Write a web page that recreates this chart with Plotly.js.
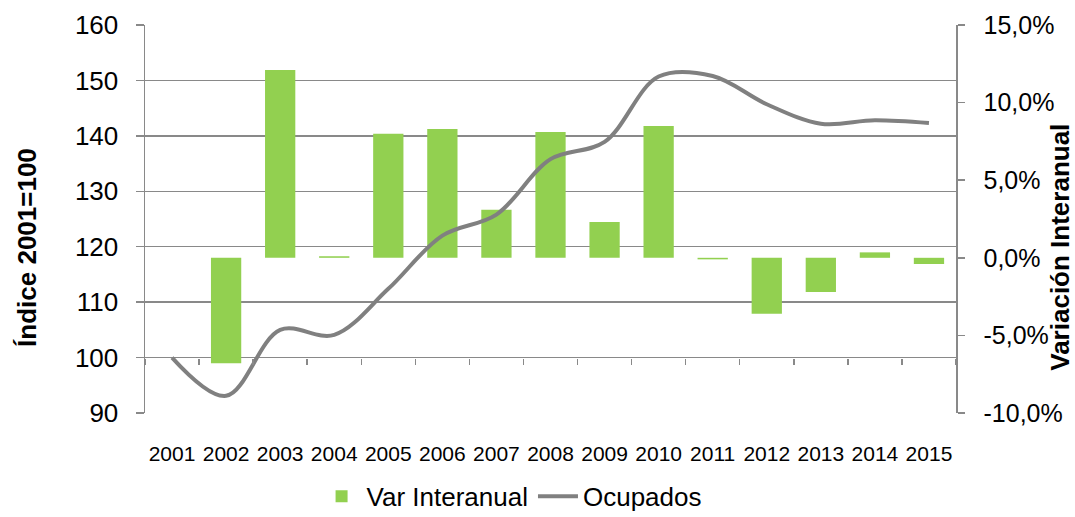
<!DOCTYPE html>
<html>
<head>
<meta charset="utf-8">
<script src="https://cdn.plot.ly/plotly-3.0.1.min.js"></script>
<style>html,body{margin:0;padding:0;background:#fff}#chart{width:1075px;height:517px}</style>
</head>
<body>
<div id="chart"></div>
<script>
var years = ["2001","2002","2003","2004","2005","2006","2007","2008","2009","2010","2011","2012","2013","2014","2015"];
var varInteranual = [null, -6.8, 12.1, 0.1, 8.0, 8.3, 3.1, 8.1, 2.3, 8.5, -0.1, -3.6, -2.2, 0.35, -0.4];
var ocupados = [100.0, 93.1, 105.0, 104.1, 112.4, 122.0, 125.8, 135.8, 138.9, 150.7, 150.8, 145.7, 142.2, 142.8, 142.3];
var leftTicks = [90, 100, 110, 120, 130, 140, 150, 160];
var rightTickVals = [-10, -5, 0, 5, 10, 15];
var rightTickText = ["-10,0%", "-5,0%", "0,0%", "5,0%", "10,0%", "15,0%"];
var leftTitle = "Índice 2001=100";
var rightTitle = "Variación Interanual";

var FONT = "Liberation Sans, Arial, sans-serif";
var GRID = "#898989";

var traces = [
  {type: "bar", name: "Var Interanual", x: years, y: varInteranual, yaxis: "y",
   marker: {color: "#92D050"}, hoverinfo: "x+y"},
  {type: "scatter", mode: "lines", name: "Ocupados", x: years, y: ocupados, yaxis: "y2",
   line: {color: "#808080", width: 4, shape: "spline", smoothing: 1}},
  {type: "scatter", mode: "lines", x: [], y: [], xaxis: "x2", yaxis: "y2", showlegend: false, hoverinfo: "skip"}
];

var layout = {
  width: 1075, height: 517,
  margin: {l: 145, r: 119, t: 25, b: 104, autoexpand: false},
  paper_bgcolor: "#fff", plot_bgcolor: "#fff",
  font: {family: FONT, size: 25, color: "#000"},
  bargap: 0.44,
  showlegend: true,
  legend: {orientation: "h", x: 0.452, xanchor: "center", y: -0.215, yanchor: "middle",
           font: {family: FONT, size: 26, color: "#000"}, traceorder: "normal", itemwidth: 40},
  xaxis: {type: "category", range: [-0.5, 14.5], showgrid: false, showline: false, zeroline: false,
          automargin: false, ticks: "", tickfont: {family: FONT, size: 21, color: "#000"}, ticklabelstandoff: 26},
  xaxis2: {overlaying: "x", anchor: "free", position: 1/7, type: "linear", range: [-0.5, 14.5],
           tick0: 0.5, dtick: 1, ticks: "outside", ticklen: 6, tickcolor: GRID, tickwidth: 1.5, automargin: false,
           showticklabels: false, showgrid: false, showline: false, zeroline: false},
  yaxis: {side: "right", range: [-10, 15], tickvals: rightTickVals, ticktext: rightTickText,
          showgrid: false, zeroline: false, showline: true, linecolor: GRID, linewidth: 1.5, automargin: false,
          ticks: "outside", ticklen: 7, tickcolor: GRID, tickwidth: 1.5, ticklabelstandoff: 14,
          tickfont: {family: FONT, size: 25, color: "#000"}},
  yaxis2: {overlaying: "y", side: "left", range: [90, 160], tickvals: leftTicks, showgrid: true, gridcolor: GRID, gridwidth: 1.5,
          zeroline: false, showline: true, linecolor: GRID, linewidth: 1.5, automargin: false,
          ticks: "outside", ticklen: 8, tickcolor: GRID, tickwidth: 1.5, ticklabelstandoff: 12,
          tickfont: {family: FONT, size: 26, color: "#000"}},
  annotations: [
    {text: leftTitle, xref: "paper", yref: "paper", x: -0.1455, y: 0.428,
     xanchor: "center", yanchor: "middle", textangle: -90, showarrow: false,
     font: {family: FONT, size: 26, color: "#000", weight: "bold"}},
    {text: rightTitle, xref: "paper", yref: "paper", x: 1.128, y: 0.428,
     xanchor: "center", yanchor: "middle", textangle: -90, showarrow: false,
     font: {family: FONT, size: 26, color: "#000", weight: "bold"}}]
};

Plotly.newPlot("chart", traces, layout, {displayModeBar: false, staticPlot: true});
</script>
</body>
</html>
